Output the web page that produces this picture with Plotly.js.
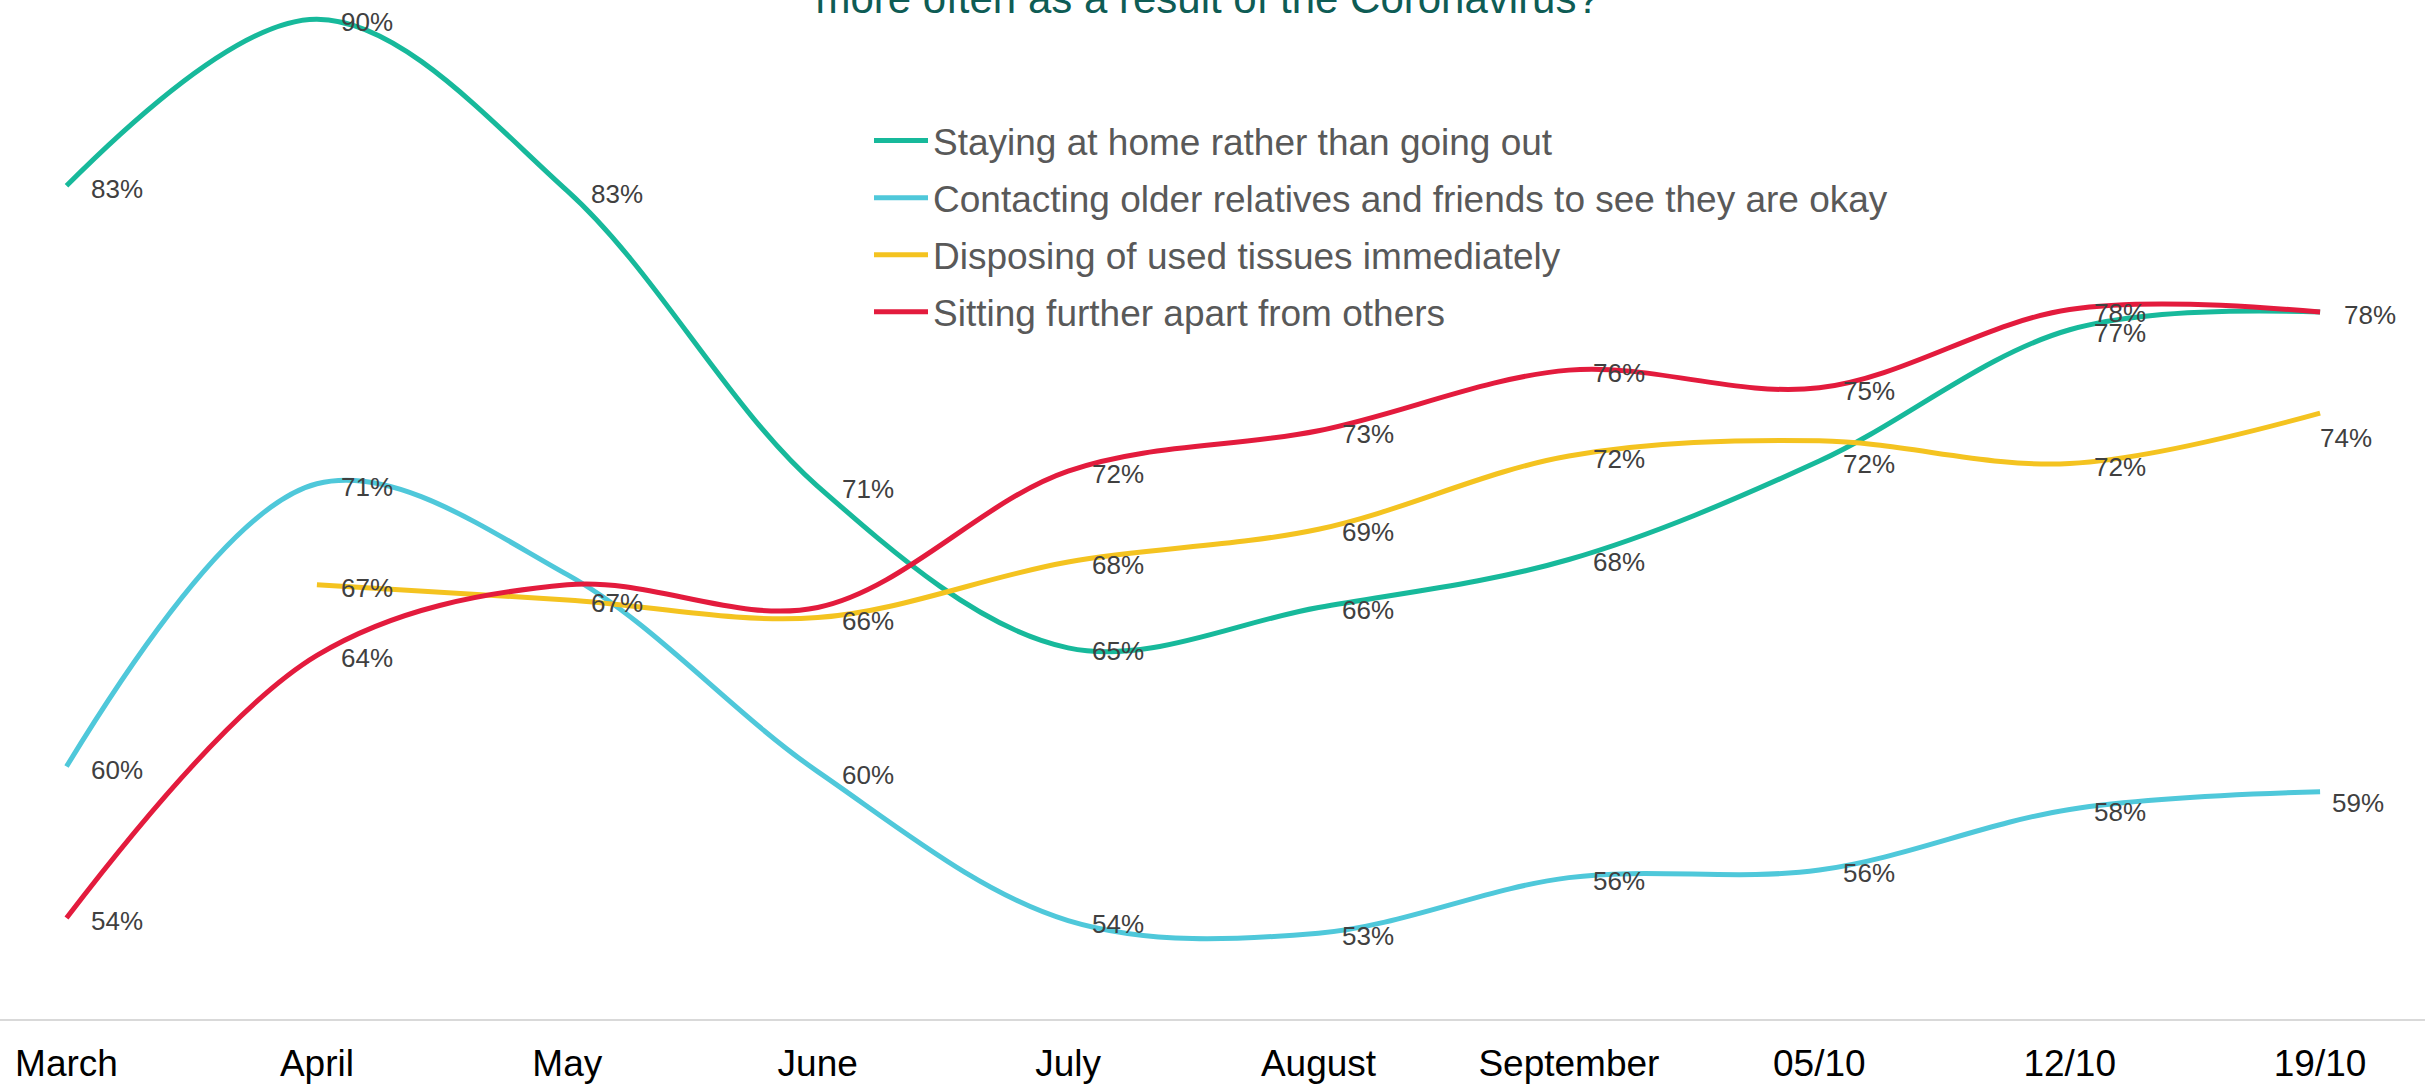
<!DOCTYPE html>
<html>
<head>
<meta charset="utf-8">
<script src="https://cdn.plot.ly/plotly-3.0.1.min.js"></script>
<style>
html, body { margin: 0; padding: 0; background: #ffffff; }
#chart { width: 2425px; height: 1086px; }
</style>
</head>
<body>
<div id="chart"></div>
<script>
// ---- data ----
const categories = ['March', 'April', 'May', 'June', 'July', 'August', 'September', '05/10', '12/10', '19/10'];

const seriesNames = [
  'Staying at home rather than going out',
  'Contacting older relatives and friends to see they are okay',
  'Disposing of used tissues immediately',
  'Sitting further apart from others'
];

const stayingAtHome      = [83, 89.6, 82.8, 71.1, 64.7, 66.3, 68.2, 72.1, 77.3, 78.0];
const contactingOlder    = [60, 71.2, 67.6, 59.8, 53.9, 53.4, 55.6, 55.9, 58.3, 59.0];
const disposingTissues   = [null, 67.2, 66.6, 65.9, 68.1, 69.4, 72.3, 72.9, 72.0, 74.0];
const sittingApart       = [54, 64.4, 67.2, 66.3, 71.7, 73.3, 75.7, 75.0, 78.1, 78.0];

// indices of data labels that are not shown in the reference
const hiddenLabels = [[9], [2], [7], [2, 3]];

// ---- styles ----
const colors = ['#17b99b', '#4fc8da', '#f4c320', '#e31b3d'];
const allSeries = [stayingAtHome, contactingOlder, disposingTissues, sittingApart];
const labelFont = { family: 'Liberation Sans, Arial, sans-serif', size: 26, color: '#404040' };

// label offset overrides [seriesIndex, pointIndex] -> shifts
const labelOffsets = {
  '2,9': { xshift: -2, yshift: -25 },
  '1,9': { xshift: 10, yshift: -11 },
  '3,9': { xshift: 22, yshift: -3 }
};

const traces = allSeries.map((vals, i) => ({
  type: 'scatter',
  mode: 'lines',
  name: seriesNames[i],
  legendgroup: 'g' + i,
  x: categories,
  y: vals,
  line: { color: colors[i], width: 5, shape: 'spline', smoothing: 1 },
  connectgaps: false,
  hoverinfo: 'skip'
}));

const annotations = [];
allSeries.forEach((vals, i) => {
  vals.forEach((v, j) => {
    if (v === null || hiddenLabels[i].includes(j)) return;
    const off = labelOffsets[i + ',' + j] || { xshift: 22, yshift: -3 };
    annotations.push({
      x: categories[j], y: v, xref: 'x', yref: 'y',
      text: Math.round(v) + '%',
      showarrow: false,
      xanchor: 'left', yanchor: 'middle',
      xshift: off.xshift, yshift: off.yshift,
      font: labelFont
    });
  });
});

const layout = {
  width: 2425,
  height: 1086,
  paper_bgcolor: '#ffffff',
  plot_bgcolor: '#ffffff',
  margin: { l: 0, r: 0, t: 0, b: 67, pad: 0 },
  title: {
    text: 'more often as a result of the Coronavirus?',
    font: { family: 'Liberation Sans, Arial, sans-serif', size: 42, color: '#0e5c55' },
    xref: 'container', x: 0.498, xanchor: 'center',
    yref: 'container', y: 1 - 13 / 1086, yanchor: 'bottom'
  },
  xaxis: {
    type: 'category',
    range: [-0.2656, 9.419],
    showgrid: false,
    zeroline: false,
    showline: true,
    linecolor: '#d9d9d9',
    linewidth: 2,
    ticks: '',
    ticklabelstandoff: 11,
    tickfont: { family: 'Liberation Sans, Arial, sans-serif', size: 37, color: '#000000' },
    fixedrange: true
  },
  yaxis: {
    range: [50, 90.36],
    showgrid: false,
    zeroline: false,
    showline: false,
    showticklabels: false,
    ticks: '',
    fixedrange: true
  },
  showlegend: true,
  legend: {
    x: 869 / 2425, xanchor: 'left',
    y: 1 - 110 / 1019, yanchor: 'top',
    bgcolor: 'rgba(0,0,0,0)',
    font: { family: 'Liberation Sans, Arial, sans-serif', size: 37, color: '#595959' },
    itemwidth: 54,
    tracegroupgap: 6,
    traceorder: 'grouped'
  },
  annotations: annotations
};

Plotly.newPlot('chart', traces, layout, { displayModeBar: false, staticPlot: true });
</script>
</body>
</html>
